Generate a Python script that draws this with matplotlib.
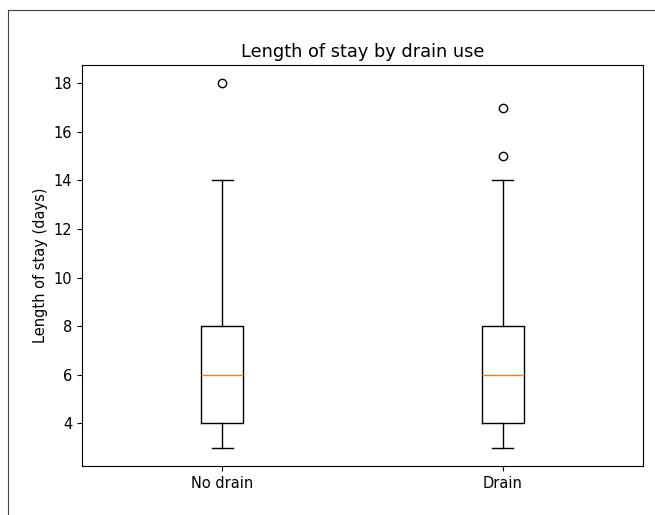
import matplotlib
matplotlib.use('Agg')
import matplotlib.pyplot as plt
from matplotlib.lines import Line2D

# Box statistics
groups = ['No drain', 'Drain']
whislo = [3, 3]
q1 = [4, 4]
med = [6, 6]
q3 = [8, 8]
whishi = [14, 14]
fliers = [[18], [15, 17]]

stats = []
for i, g in enumerate(groups):
    stats.append({'label': g, 'whislo': whislo[i], 'q1': q1[i], 'med': med[i],
                  'q3': q3[i], 'whishi': whishi[i], 'fliers': fliers[i]})

fig = plt.figure(figsize=(6.55, 5.15), dpi=100)
ax = fig.add_axes([82 / 655, 1 - 466 / 515, (643 - 82) / 655, (466 - 65) / 515])

ax.bxp(stats, widths=0.15)
ax.set_title('Length of stay by drain use', fontsize=12.8)
ax.set_ylabel('Length of stay (days)', fontsize=10.5)
ax.tick_params(labelsize=10.5)

# frame edge visible in the cropped source image
fig.add_artist(Line2D([8 / 655, 1], [1 - 10 / 515, 1 - 10 / 515], color='#444444', lw=0.8))
fig.add_artist(Line2D([8 / 655, 8 / 655], [0, 1 - 10 / 515], color='#444444', lw=0.8))

fig.savefig('out.png', dpi=100)
